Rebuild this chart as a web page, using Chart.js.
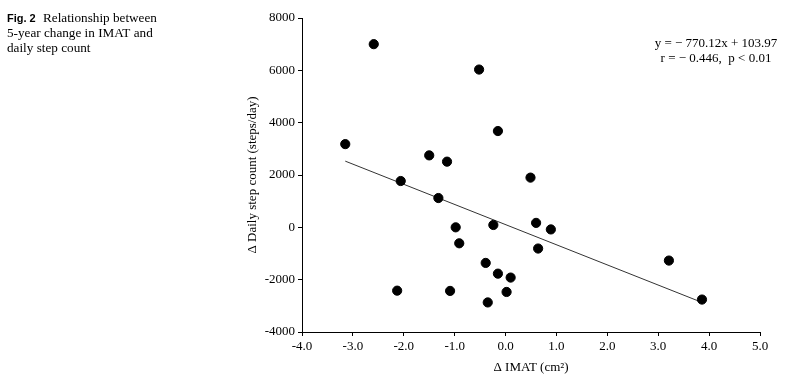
<!DOCTYPE html>
<html>
<head>
<meta charset="utf-8">
<script src="https://cdn.jsdelivr.net/npm/chart.js@4"></script>
<style>
  html, body { margin: 0; padding: 0; background: #fff; }
  #wrap { position: relative; width: 800px; height: 380px; }
</style>
</head>
<body>
<div id="wrap"><canvas id="chart2" width="800" height="380"></canvas></div>
<script>
// Δ IMAT (cm2) vs Δ daily step count
var imatChange = [-3.15, -2.59, -0.52, -0.15, -1.50, -1.15, -2.06, 0.49, -1.32, -0.98, -0.24, -0.91,
                  -0.39, -0.15, 0.10, -2.13, -1.09, 0.02, -0.35, 0.60, 0.64, 0.89, 3.21, 3.86];
var stepChange = [3180, 7000, 6030, 3680, 2750, 2510, 1770, 1900, 1120, 0, 90, -610,
                  -1360, -1770, -1920, -2420, -2430, -2470, -2870, 170, -810, -80, -1270, -2760];

// regression from the figure
var slope = -770.12;
var intercept = 103.97;
var eqLines = ['y = \u2212 770.12x + 103.97', 'r = \u2212 0.446,  p < 0.01'];
var captionBold = 'Fig. 2';
var captionLines = ['Relationship between', '5-year change in IMAT and', 'daily step count'];

var xTicks = [-4, -3, -2, -1, 0, 1, 2, 3, 4, 5];
var yTicks = [-4000, -2000, 0, 2000, 4000, 6000, 8000];

var pts = [];
for (var i = 0; i < imatChange.length; i++) {
  pts.push({x: imatChange[i], y: stepChange[i]});
}
var xMin = Math.min.apply(null, imatChange);
var xMax = Math.max.apply(null, imatChange);
var fitLine = [
  {x: xMin, y: slope * xMin + intercept},
  {x: xMax, y: slope * xMax + intercept}
];

var serif = '"Liberation Serif", "DejaVu Serif", serif';

var textPlugin = {
  id: 'texts',
  afterDraw: function(chart) {
    var c = chart.ctx;
    c.save();
    c.fillStyle = '#000';
    c.textBaseline = 'alphabetic';
    // caption
    c.textAlign = 'left';
    c.font = 'bold 11px "Liberation Sans", Arial, sans-serif';
    c.fillText(captionBold, 7, 22);
    c.font = '13.2px ' + serif;
    c.fillText(captionLines[0], 43, 22);
    c.fillText(captionLines[1], 7, 37);
    c.fillText(captionLines[2], 7, 52);
    // equation
    c.textAlign = 'center';
    c.font = '13px ' + serif;
    c.fillText(eqLines[0], 716, 47);
    c.fillText(eqLines[1], 716, 62);
    c.restore();
  }
};

var ctx = document.getElementById('chart2').getContext('2d');
var chart = new Chart(ctx, {
  type: 'scatter',
  data: {
    datasets: [{
      label: 'subjects',
      data: pts,
      backgroundColor: '#000',
      borderColor: '#000',
      pointRadius: 4.6,
      pointHoverRadius: 4.6
    }, {
      type: 'line',
      label: 'fit',
      data: fitLine,
      borderColor: '#333',
      borderWidth: 1,
      pointRadius: 0,
      fill: false
    }]
  },
  options: {
    responsive: false,
    animation: false,
    events: [],
    layout: { padding: { left: 240, right: 40, top: 18, bottom: 0 } },
    plugins: {
      legend: { display: false },
      tooltip: { enabled: false }
    },
    scales: {
      x: {
        type: 'linear',
        min: -4, max: 5,
        afterFit: function(s) { s.height = 48; },
        afterBuildTicks: function(s) { s.ticks = xTicks.map(function(v) { return {value: v}; }); },
        grid: { display: true, drawOnChartArea: false, drawTicks: true, tickLength: 4, color: '#000', lineWidth: 1 },
        border: { display: true, color: '#000', width: 1 },
        ticks: {
          color: '#000', padding: 3, maxRotation: 0,
          font: { family: serif, size: 13 },
          callback: function(v) { return Number(v).toFixed(1); }
        },
        title: {
          display: true, text: '\u0394 IMAT (cm\u00B2)', color: '#000',
          font: { family: serif, size: 13 }, padding: { top: 5, bottom: 5 }
        }
      },
      y: {
        type: 'linear',
        min: -4000, max: 8000,
        afterFit: function(s) { s.width = 62; },
        afterBuildTicks: function(s) { s.ticks = yTicks.map(function(v) { return {value: v}; }); },
        grid: { display: true, drawOnChartArea: false, drawTicks: true, tickLength: 4, color: '#000', lineWidth: 1 },
        border: { display: true, color: '#000', width: 1 },
        ticks: {
          color: '#000', padding: 3,
          font: { family: serif, size: 13 },
          callback: function(v) { return String(v); }
        },
        title: {
          display: true, text: '\u0394 Daily step count (steps/day)', color: '#000',
          font: { family: serif, size: 13 }, padding: { top: 5, bottom: 3 }
        }
      }
    }
  },
  plugins: [textPlugin]
});
</script>
</body>
</html>
